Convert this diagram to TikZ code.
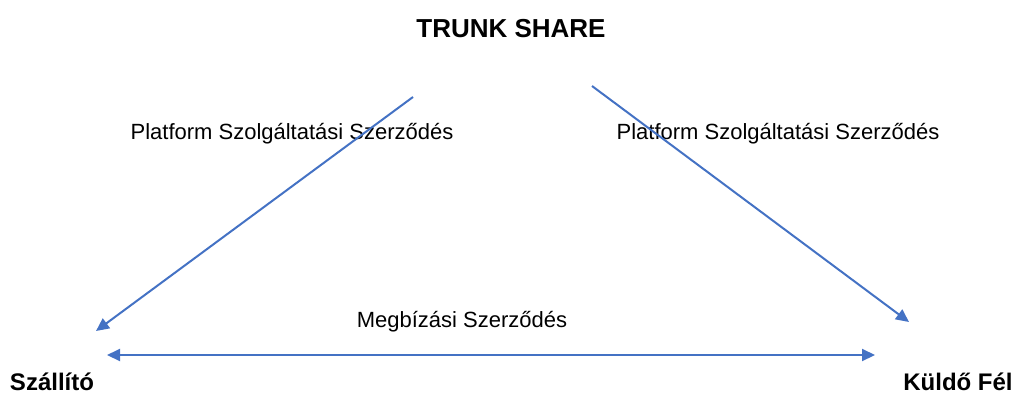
\documentclass[tikz,border=0pt]{standalone}
\usepackage{fontspec}
\setmainfont{Liberation Sans}
\usetikzlibrary{arrows.meta}
\definecolor{arrowblue}{RGB}{68,114,196}
\tikzset{
  conn/.style={draw=arrowblue, line width=2pt, -{Triangle[length=13pt,width=12pt]}},
  biconn/.style={draw=arrowblue, line width=2pt, {Triangle[length=13pt,width=12pt]}-{Triangle[length=13pt,width=12pt]}},
  lbl/.style={font=\fontsize{22}{26}\selectfont, inner sep=0pt, anchor=base},
  title/.style={font=\fontsize{26}{30}\selectfont\bfseries, inner sep=0pt, anchor=base},
  party/.style={font=\fontsize{24}{28}\selectfont\bfseries, inner sep=0pt, anchor=base, text depth=0pt},
}
\begin{document}
\begin{tikzpicture}[x=1pt,y=-1pt]
\useasboundingbox (0,0) rectangle (1014,394);
\node[title] (ts) at (511,37) {TRUNK SHARE};
\node[party] (sz) at (52,390) {Szállító};
\node[party] (kf) at (958,390) {Küldő Fél};
\coordinate (a1) at (413,97);
\coordinate (a2) at (96,331);
\coordinate (b1) at (592,86);
\coordinate (b2) at (909,322);
\coordinate (c1) at (107,355);
\coordinate (c2) at (875,355);
\node[lbl] (l1) at (292,139) {Platform Szolgáltatási Szerződés};
\node[lbl] (l2) at (778,139) {Platform Szolgáltatási Szerződés};
\node[lbl] (l3) at (462,327) {Megbízási Szerződés};
\draw[conn] (a1) -- (a2);
\draw[conn] (b1) -- (b2);
\draw[biconn] (c1) -- (c2);
\end{tikzpicture}
\end{document}
